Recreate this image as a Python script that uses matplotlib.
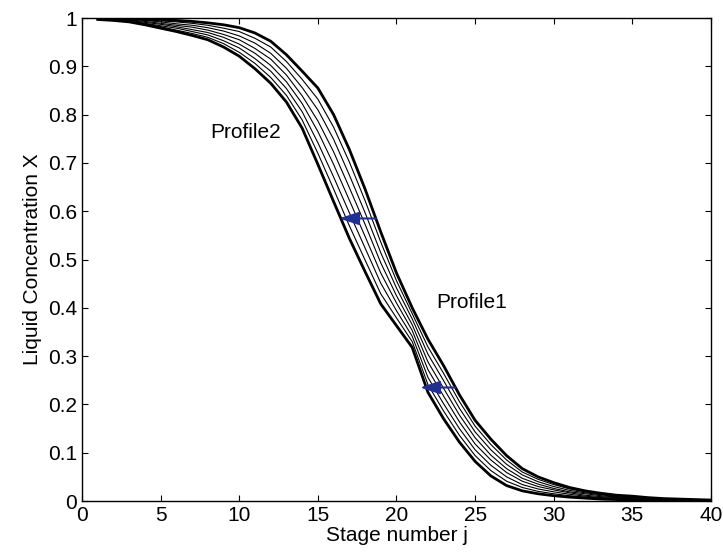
import matplotlib
matplotlib.use('Agg')
import matplotlib.pyplot as plt
import numpy as np

plt.rcParams['font.family'] = ['Liberation Sans', 'DejaVu Sans']

# stage numbers
stages = np.arange(1, 41)

# Profile1 (right thick curve) and Profile2 (left thick curve)
profile1 = [1.000, 0.999, 0.999, 0.998, 0.997, 0.995, 0.993, 0.990, 0.986, 0.980,
            0.969, 0.952, 0.924, 0.890, 0.855, 0.800, 0.728, 0.646, 0.557, 0.472,
            0.400, 0.335, 0.280, 0.220, 0.167, 0.128, 0.094, 0.067, 0.050, 0.038,
            0.028, 0.021, 0.016, 0.012, 0.010, 0.007, 0.005, 0.004, 0.003, 0.002]
profile2 = [0.997, 0.995, 0.992, 0.986, 0.979, 0.972, 0.964, 0.955, 0.940, 0.921,
            0.895, 0.865, 0.826, 0.772, 0.697, 0.620, 0.544, 0.475, 0.408, 0.363,
            0.318, 0.225, 0.170, 0.122, 0.082, 0.052, 0.032, 0.021, 0.015, 0.011,
            0.008, 0.006, 0.004, 0.003, 0.002, 0.002, 0.001, 0.001, 0.001, 0.000]

# intermediate (transient) profiles, from Profile2 side towards Profile1
mid1 = [0.997, 0.996, 0.993, 0.988, 0.982, 0.975, 0.968, 0.960, 0.947, 0.929,
        0.906, 0.877, 0.840, 0.789, 0.720, 0.646, 0.570, 0.499, 0.429, 0.379,
        0.330, 0.241, 0.186, 0.136, 0.094, 0.063, 0.041, 0.028, 0.020, 0.015,
        0.011, 0.008, 0.006, 0.004, 0.003, 0.003, 0.002, 0.001, 0.001, 0.000]
mid2 = [0.998, 0.996, 0.994, 0.989, 0.984, 0.979, 0.972, 0.965, 0.953, 0.938,
        0.916, 0.890, 0.854, 0.806, 0.742, 0.671, 0.597, 0.524, 0.451, 0.394,
        0.341, 0.256, 0.201, 0.150, 0.106, 0.074, 0.050, 0.034, 0.025, 0.019,
        0.014, 0.010, 0.007, 0.006, 0.004, 0.003, 0.002, 0.002, 0.002, 0.001]
mid3 = [0.998, 0.997, 0.995, 0.991, 0.987, 0.982, 0.976, 0.970, 0.960, 0.946,
        0.927, 0.902, 0.868, 0.823, 0.765, 0.697, 0.623, 0.548, 0.472, 0.410,
        0.353, 0.272, 0.217, 0.164, 0.118, 0.085, 0.059, 0.041, 0.030, 0.023,
        0.017, 0.012, 0.009, 0.007, 0.005, 0.004, 0.003, 0.002, 0.002, 0.001]
mid4 = [0.999, 0.997, 0.996, 0.993, 0.989, 0.985, 0.981, 0.975, 0.966, 0.955,
        0.937, 0.915, 0.882, 0.839, 0.787, 0.723, 0.649, 0.573, 0.493, 0.425,
        0.365, 0.288, 0.233, 0.178, 0.131, 0.095, 0.067, 0.047, 0.035, 0.026,
        0.019, 0.015, 0.011, 0.008, 0.007, 0.005, 0.003, 0.003, 0.002, 0.001]
mid5 = [0.999, 0.998, 0.997, 0.995, 0.992, 0.988, 0.985, 0.980, 0.973, 0.963,
        0.948, 0.927, 0.896, 0.856, 0.810, 0.749, 0.675, 0.597, 0.514, 0.441,
        0.377, 0.304, 0.249, 0.192, 0.143, 0.106, 0.076, 0.054, 0.040, 0.030,
        0.022, 0.017, 0.013, 0.009, 0.008, 0.006, 0.004, 0.003, 0.002, 0.001]
mid6 = [1.000, 0.998, 0.998, 0.996, 0.994, 0.992, 0.989, 0.985, 0.979, 0.972,
        0.958, 0.940, 0.910, 0.873, 0.832, 0.774, 0.702, 0.622, 0.536, 0.456,
        0.388, 0.319, 0.264, 0.206, 0.155, 0.117, 0.085, 0.060, 0.045, 0.034,
        0.025, 0.019, 0.014, 0.011, 0.009, 0.006, 0.004, 0.004, 0.003, 0.002]

# arrows: (start x, tip x, y)
arrows = [(18.7, 16.35, 0.585), (23.75, 21.5, 0.235)]
arrow_color = '#1f2f96'

fig = plt.figure(figsize=(7.23, 5.56), dpi=100)
ax = fig.add_axes([0.1134, 0.0989, 0.8700, 0.8687])

for m in [mid1, mid2, mid3, mid4, mid5, mid6]:
    ax.plot(stages, m, '-', color='black', lw=0.8)
ax.plot(stages, profile1, '-', color='black', lw=2.0)
ax.plot(stages, profile2, '-', color='black', lw=2.0)

for x0, x1, y in arrows:
    ax.annotate('', xy=(x1, y), xytext=(x0, y),
                arrowprops=dict(arrowstyle='-|>,head_length=0.6,head_width=0.2',
                                color=arrow_color, lw=1.5,
                                mutation_scale=20, shrinkA=0, shrinkB=0))

ax.text(8.18, 0.751, 'Profile2', fontsize=15, va='baseline', ha='left')
ax.text(22.56, 0.399, 'Profile1', fontsize=15, va='baseline', ha='left')

ax.set_xlim(0, 40)
ax.set_ylim(0, 1)
ax.set_xticks(np.arange(0, 41, 5))
ax.set_yticks(np.arange(0, 1.01, 0.1))
ax.set_yticklabels(['0', '0.1', '0.2', '0.3', '0.4', '0.5', '0.6', '0.7', '0.8', '0.9', '1'])
ax.tick_params(direction='in', top=True, right=True, labelsize=15, length=4, width=0.8)
for s in ax.spines.values():
    s.set_linewidth(1.0)

ax.set_xlabel('Stage number j', fontsize=15, labelpad=1)
ax.set_ylabel('Liquid Concentration X', fontsize=15, labelpad=4)

fig.savefig('out.png', dpi=100)
